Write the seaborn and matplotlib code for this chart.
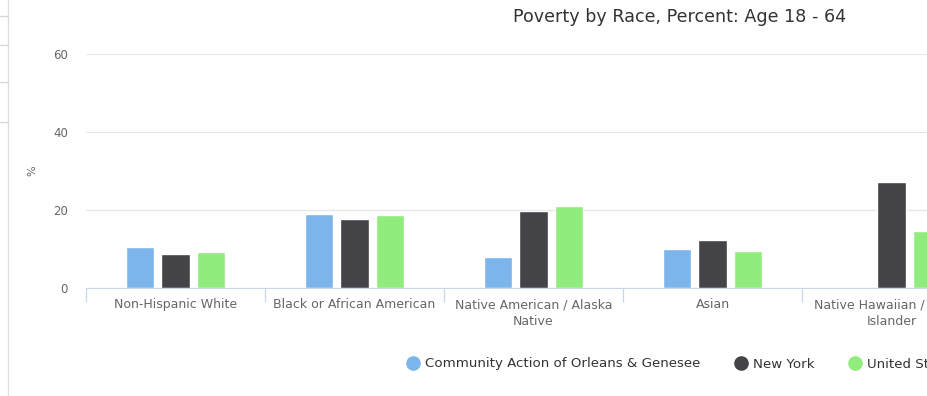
import pandas as pd
import numpy as np
import matplotlib.pyplot as plt
import seaborn as sns
from matplotlib.lines import Line2D

# ----------------------------------------------
# Data
# ----------------------------------------------
categories = ["Non-Hispanic White", "Black or African American",
              "Native American / Alaska\nNative", "Asian",
              "Native Hawaiian / Pacific\nIslander"]
series = ["Community Action of Orleans & Genesee", "New York", "United States"]
orleans = [10.5, 19.0, 7.9, 10.0, np.nan]
new_york = [8.7, 17.7, 19.8, 12.3, 27.1]
united_states = [9.2, 18.7, 21.0, 9.5, 14.6]
yticks = [0, 20, 40, 60]
colors = ["#7cb5ec", "#434348", "#90ed7d"]

df = pd.DataFrame({
    "Race": categories * 3,
    "Region": [s for s in series for _ in categories],
    "Percent": orleans + new_york + united_states,
})

# ----------------------------------------------
# Plot
# ----------------------------------------------
sns.set_style("white")
plt.rcParams["font.family"] = ["DejaVu Sans"]

fig = plt.figure(figsize=(9.28, 3.96), dpi=100)
ax = fig.add_axes([86 / 928, 108 / 396, 895 / 928, 234 / 396])

sns.barplot(data=df, x="Race", y="Percent", hue="Region", order=categories,
            hue_order=series, palette=colors, width=0.59, gap=0.2,
            errorbar=None, saturation=1, ax=ax)
ax.get_legend().remove()

ax.set_xlim(-0.5, 4.5)
ax.set_ylim(0, 60)
ax.set_yticks(yticks)
ax.set_yticklabels([str(t) for t in yticks], color="#666666", fontsize=8.5)
ax.tick_params(axis="y", left=False, length=0, pad=13)
ax.tick_params(axis="x", which="major", bottom=False, length=0, pad=7.5,
               labelsize=9.0, labelcolor="#666666")
plt.setp(ax.get_xticklabels(), linespacing=1.35)
ax.set_xticks(np.arange(-0.5, 5.0, 1.0), minor=True)
ax.tick_params(axis="x", which="minor", bottom=True, length=10, width=0.9,
               color="#ccd6eb", direction="out")
ax.grid(axis="y", color="#e6e6e6", linewidth=0.9)
ax.set_axisbelow(True)
for side in ["top", "right", "left"]:
    ax.spines[side].set_visible(False)
ax.spines["bottom"].set_color("#ccd6eb")
ax.set_xlabel("")
ax.set_ylabel("")

fig.text(32 / 928, 1 - 171 / 396, "%", rotation=90, ha="center", va="center",
         color="#666666", fontsize=8)
fig.text(680 / 928, 1 - 17 / 396, "Poverty by Race, Percent: Age 18 - 64",
         ha="center", va="center", fontsize=12.6, color="#333333")

handles = [Line2D([], [], marker="o", linestyle="", markersize=9.5,
                  markerfacecolor=c, markeredgecolor=c) for c in colors]
fig.legend(handles, series, loc="center left",
           bbox_to_anchor=(394 / 928, 1 - 364 / 396), ncol=3, frameon=False,
           fontsize=9.6, handletextpad=0.4, columnspacing=2.55,
           labelcolor="#333333", handlelength=1.0)

# page frame pieces around the chart
fig.add_artist(Line2D([8 / 928, 8 / 928], [0, 1], color="#e0e0e0", lw=1))
for yy in [16, 45, 82, 122]:
    fig.add_artist(Line2D([0, 8 / 928], [1 - yy / 396] * 2, color="#d8d8d8", lw=1))

fig.savefig("out.png", dpi=100)
